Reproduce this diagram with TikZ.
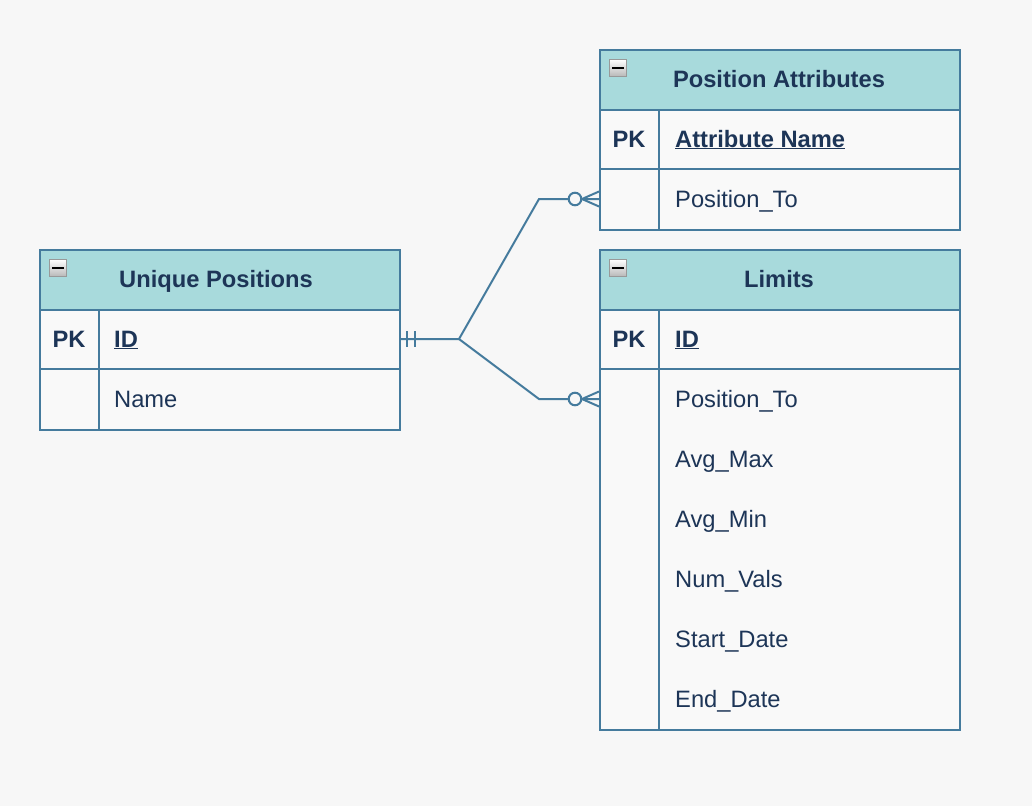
\documentclass[tikz,border=0pt]{standalone}
\usepackage{fontspec}
\setmainfont{Liberation Sans}
\definecolor{bgc}{HTML}{F7F7F7}
\definecolor{hdr}{HTML}{A8DADC}
\definecolor{bdr}{HTML}{457B9D}
\definecolor{txt}{HTML}{1D3557}
\definecolor{rowc}{HTML}{F9F9F9}
\definecolor{icb}{HTML}{999999}
\tikzset{
  tbl/.style={draw=bdr, line width=2pt, fill=rowc, inner sep=0pt, anchor=north west},
  hdrbox/.style={draw=bdr, line width=2pt, fill=hdr, inner sep=0pt, anchor=north west, minimum width=360pt, minimum height=60pt},
  title/.style={text=txt, font=\fontsize{23.7}{26}\selectfont\bfseries, inner sep=0pt, anchor=base},
  pk/.style={text=txt, font=\fontsize{23.7}{26}\selectfont\bfseries, inner sep=0pt, anchor=base},
  fld/.style={text=txt, font=\fontsize{23.7}{26}\selectfont, inner sep=0pt, anchor=base west},
  fldb/.style={text=txt, font=\fontsize{23.7}{26}\selectfont\bfseries, inner sep=0pt, anchor=base west},
  sep/.style={draw=bdr, line width=2pt},
  conn/.style={draw=bdr, line width=2pt},
  icon/.style={draw=icb, line width=1.6pt, top color=white, bottom color=gray!55, minimum size=17pt, inner sep=0pt, anchor=north west},
}
\newcommand{\collapseicon}[2]{%
  \node[icon] (#2) at ([xshift=9.5pt,yshift=-9.5pt]#1.north west) {};
  \draw[black, line width=2.2pt] ([xshift=3.5pt]#2.west) -- ([xshift=-3.5pt]#2.east);
}
\begin{document}
\begin{tikzpicture}[x=1pt,y=-1pt]
\fill[bgc] (0,0) rectangle (1032,806);
\useasboundingbox (0,0) rectangle (1032,806);

% ---------- Unique Positions ----------
\node[tbl, minimum width=360pt, minimum height=180pt] (up) at (39,249) {};
\node[hdrbox] (uph) at (39,249) {};
\node[title] (upt) at (216,287) {Unique Positions};
\collapseicon{uph}{upi}
\draw[sep] (39,369) -- (399,369);
\draw[sep] (99,309) -- (99,429);
\node[pk] (uppk) at (69,347) {PK};
\node[fldb] (upid) at (114,347) {\underline{ID}};
\node[fld] (upname) at (114,407) {Name};
\coordinate (upE) at (399,339);

% ---------- Position Attributes ----------
\node[tbl, minimum width=360pt, minimum height=180pt] (pa) at (599,49) {};
\node[hdrbox] (pah) at (599,49) {};
\node[title] (pat) at (779,87) {Position Attributes};
\collapseicon{pah}{pai}
\draw[sep] (599,169) -- (959,169);
\draw[sep] (659,109) -- (659,229);
\node[pk] (papk) at (629,147) {PK};
\node[fldb] (paname) at (675,147) {\underline{Attribute Name}};
\node[fld] (pato) at (675,207) {Position\_To};
\coordinate (paW) at (599,199);

% ---------- Limits ----------
\node[tbl, minimum width=360pt, minimum height=480pt] (li) at (599,249) {};
\node[hdrbox] (lih) at (599,249) {};
\node[title] (lit) at (779,287) {Limits};
\collapseicon{lih}{lii}
\draw[sep] (599,369) -- (959,369);
\draw[sep] (659,309) -- (659,729);
\node[pk] (lipk) at (629,347) {PK};
\node[fldb] (liid) at (675,347) {\underline{ID}};
\node[fld] (lif1) at (675,407) {Position\_To};
\node[fld] (lif2) at (675,467) {Avg\_Max};
\node[fld] (lif3) at (675,527) {Avg\_Min};
\node[fld] (lif4) at (675,587) {Num\_Vals};
\node[fld] (lif5) at (675,647) {Start\_Date};
\node[fld] (lif6) at (675,707) {End\_Date};
\coordinate (liW) at (599,399);

% ---------- connectors ----------
\coordinate (j) at (459,339);
\coordinate (paB) at (539,199);
\coordinate (liB) at (539,399);
\draw[conn] (upE) -- (j) -- (paB) -- (paW);
\draw[conn] (j) -- (liB) -- (liW);
% mandatory one
\draw[conn] ([xshift=8pt]upE) ++(0,-8) -- ++(0,16);
\draw[conn] ([xshift=16pt]upE) ++(0,-8) -- ++(0,16);
% zero or many
\foreach \w in {paW,liW}{
  \draw[conn] ([xshift=-17pt]\w) -- ([yshift=7.5pt]\w);
  \draw[conn] ([xshift=-17pt]\w) -- ([yshift=-7.5pt]\w);
  \draw[conn, fill=bgc] ([xshift=-24pt]\w) circle[radius=6.3pt];
}
\end{tikzpicture}
\end{document}
